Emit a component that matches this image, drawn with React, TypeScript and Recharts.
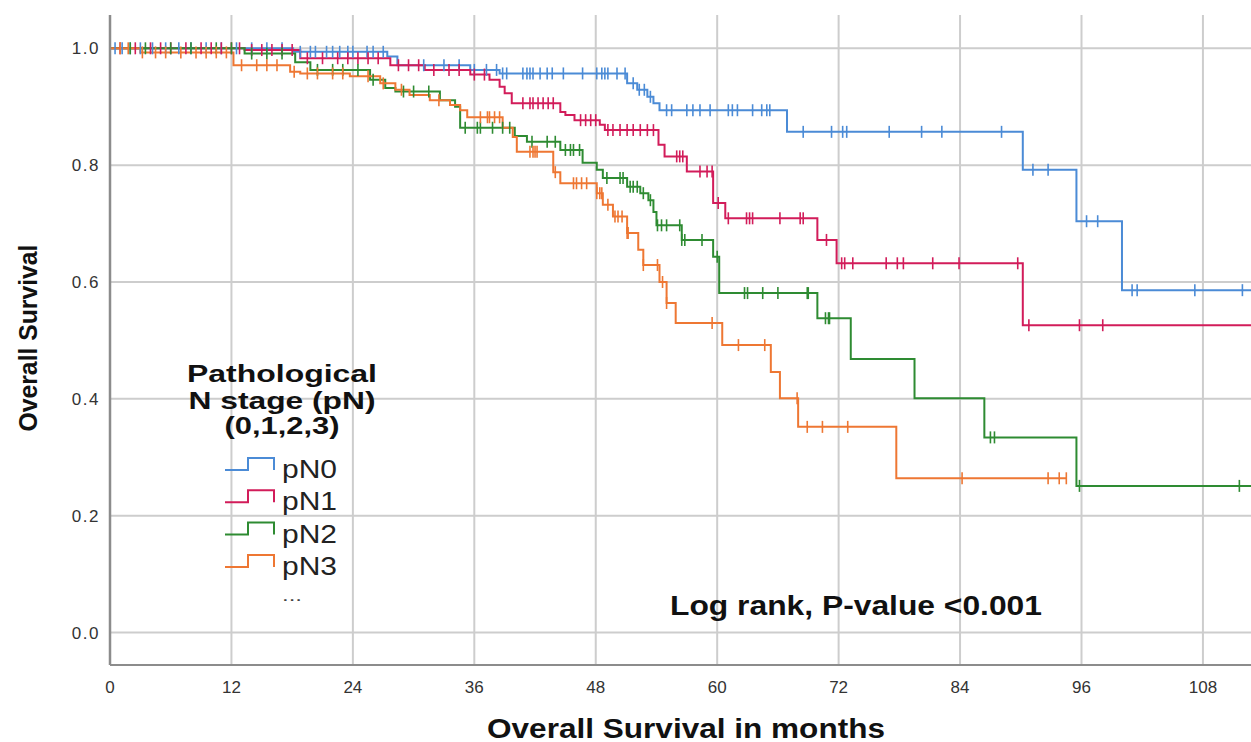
import {
  ComposedChart,
  Line,
  ReferenceLine,
  Scatter,
  XAxis,
  YAxis,
} from "recharts";

// Kaplan-Meier steps: [month, survival]
const PN0_STEPS: [number, number][] = [
  [0, 1], [18.1, 0.994], [27.4, 0.986], [28.4, 0.971], [35.6, 0.963], [38.5, 0.957],
  [51.1, 0.94], [52.1, 0.929], [53.1, 0.917], [53.7, 0.906], [54.3, 0.894],
  [66.9, 0.857], [90.2, 0.792], [95.5, 0.704], [100.0, 0.586], [112.75, 0.586],
];
const PN1_STEPS: [number, number][] = [
  [0, 1], [13.3, 0.997], [18.8, 0.983], [27.7, 0.971], [31.1, 0.963], [35.6, 0.955],
  [37.5, 0.946], [38.5, 0.934], [39.0, 0.923], [39.7, 0.906], [44.5, 0.891], [45.0, 0.886],
  [45.9, 0.877], [48.4, 0.869], [48.9, 0.86], [54.2, 0.835], [54.8, 0.815], [57.0, 0.789],
  [59.6, 0.735], [60.8, 0.709], [69.9, 0.672], [71.8, 0.632], [90.2, 0.526], [112.75, 0.526],
];
const PN2_STEPS: [number, number][] = [
  [0, 1], [13.3, 0.991], [18.3, 0.976], [19.8, 0.963], [25.7, 0.946], [27.2, 0.932],
  [28.2, 0.926], [32.6, 0.911], [34.1, 0.9], [34.6, 0.864], [40.0, 0.85], [41.2, 0.84],
  [44.5, 0.826], [46.7, 0.804], [48.1, 0.792], [48.7, 0.778], [51.1, 0.763], [52.4, 0.752],
  [53.2, 0.74], [53.7, 0.72], [54.0, 0.697], [56.5, 0.672], [59.6, 0.643], [60.2, 0.581],
  [69.9, 0.538], [73.2, 0.468], [79.5, 0.401], [86.4, 0.334], [95.5, 0.251], [112.75, 0.251],
];
const PN3_STEPS: [number, number][] = [
  [0, 1], [3.0, 0.993], [12.2, 0.971], [17.8, 0.96], [18.8, 0.957], [23.7, 0.952],
  [26.7, 0.94], [28.2, 0.929], [29.6, 0.92], [31.6, 0.911], [33.6, 0.903], [34.6, 0.894],
  [35.3, 0.882], [38.8, 0.864], [39.8, 0.848], [40.2, 0.823], [43.8, 0.788], [44.5, 0.769],
  [48.1, 0.752], [48.7, 0.732], [49.7, 0.712], [51.1, 0.684], [52.2, 0.655], [52.7, 0.629],
  [54.3, 0.6], [55.0, 0.564], [55.9, 0.53], [60.5, 0.492], [65.3, 0.446], [66.2, 0.401],
  [68.0, 0.352], [77.7, 0.264], [94.5, 0.264],
];

// censored times (months)
const PN0_CENSORED = [
  0.5, 1.2, 2.0, 3.0, 4.2, 5.5, 6.8, 8.0, 9.5, 11.0, 12.5, 14.0, 15.5, 17.0, 18.8, 19.8,
  20.3, 21.4, 22.0, 22.7, 23.5, 24.0, 25.4, 26.0, 27.0, 31.0, 33.0, 34.5, 36.0, 37.2, 38.2,
  38.8, 39.2, 40.8, 41.2, 41.5, 41.8, 42.5, 43.2, 43.7, 44.8, 46.7, 48.1, 48.6, 48.9, 49.2,
  50.1, 50.9, 51.7, 52.3, 52.8, 53.4, 55.0, 55.5, 57.0, 57.6, 58.3, 59.3, 61.1, 61.5, 62.0,
  63.5, 64.4, 64.9, 65.2, 68.5, 71.3, 72.4, 72.8, 77.0, 80.2, 82.2, 88.1, 91.2, 92.7, 96.5,
  97.6, 101.0, 101.5, 107.2, 111.9,
];
const PN1_CENSORED = [
  1.0, 2.5, 4.0, 5.0, 6.0, 7.5, 9.0, 10.0, 11.0, 12.0, 12.8, 14.0, 15.0, 16.0, 17.0, 18.0,
  19.5, 21.0, 22.5, 23.5, 24.5, 25.5, 26.5, 28.5, 29.5, 30.5, 32.0, 33.5, 34.5, 36.0, 37.0,
  40.8, 41.5, 41.8, 42.3, 42.8, 43.3, 43.8, 46.5, 47.0, 47.5, 48.0, 49.2, 49.7, 50.4, 51.1,
  51.7, 52.4, 53.1, 53.7, 56.0, 56.3, 56.6, 58.3, 59.0, 59.5, 60.1, 61.1, 62.9, 63.2, 63.5,
  66.2, 68.2, 68.5, 70.8, 72.3, 72.6, 73.4, 76.7, 77.8, 78.4, 81.3, 83.9, 89.7, 90.8, 95.8, 98.1,
];
const PN2_CENSORED = [
  2.0, 3.5, 6.0, 8.0, 10.5, 12.0, 14.0, 15.5, 17.0, 20.5, 22.0, 23.0, 24.5, 26.0, 29.0, 30.0,
  31.5, 35.1, 36.3, 36.6, 37.8, 38.8, 39.5, 41.7, 43.2, 44.0, 45.0, 45.5, 45.8, 46.4, 49.1,
  50.4, 50.7, 51.4, 51.7, 52.1, 52.7, 53.4, 54.1, 54.5, 55.0, 56.3, 56.5, 56.8, 58.5, 60.0,
  62.7, 63.0, 64.5, 66.0, 68.9, 69.0, 70.7, 71.0, 71.1, 87.0, 87.4, 95.8, 111.6,
];
const PN3_CENSORED = [
  1.0, 1.8, 3.2, 4.5, 5.5, 7.0, 8.5, 9.5, 10.5, 11.5, 13.0, 14.5, 15.5, 16.5, 18.2, 19.5,
  20.5, 22.0, 23.0, 25.5, 27.0, 28.8, 32.5, 36.6, 37.3, 37.5, 38.0, 38.5, 41.5, 41.8, 42.0,
  42.2, 44.0, 45.8, 46.1, 46.6, 47.1, 48.1, 48.4, 48.6, 49.2, 49.9, 50.2, 50.6, 51.1, 51.2,
  52.7, 54.1, 54.6, 55.0, 59.5, 62.1, 64.7, 67.9, 68.9, 70.4, 72.9, 84.2, 92.7, 93.8, 94.5,
];

const MONTH_TICKS = [0, 12, 24, 36, 48, 60, 72, 84, 96, 108];
const SURVIVAL_TICKS = [0, 0.2, 0.4, 0.6, 0.8, 1.0];
const GROUP_LABELS = ["pN0", "pN1", "pN2", "pN3"];
const GROUP_COLORS = ["#4b8bd6", "#d21c5a", "#2e8b32", "#ee7733"];

const X_DOMAIN: [number, number] = [0, 112.75];
const Y_DOMAIN: [number, number] = [-0.0556, 1.057];

const FONT = "'Liberation Sans', Arial, sans-serif";
const GRID = "#cdcdcd";

type Pt = { t: number; s: number };

const toPoints = (steps: [number, number][]): Pt[] => steps.map(([t, s]) => ({ t, s }));

// KM value at time t (value of the step in force)
function survivalAt(steps: [number, number][], t: number) {
  let s = steps[0][1];
  for (const [time, value] of steps) {
    if (time <= t) s = value;
    else break;
  }
  return s;
}

const censorPoints = (steps: [number, number][], times: number[]): Pt[] =>
  times.map((t) => ({ t, s: survivalAt(steps, t) }));

const groups = [
  { steps: PN0_STEPS, censored: PN0_CENSORED },
  { steps: PN1_STEPS, censored: PN1_CENSORED },
  { steps: PN2_STEPS, censored: PN2_CENSORED },
  { steps: PN3_STEPS, censored: PN3_CENSORED },
].map((g, i) => ({
  name: GROUP_LABELS[i],
  color: GROUP_COLORS[i],
  line: toPoints(g.steps),
  marks: censorPoints(g.steps, g.censored),
}));

function CensorMark(props: any) {
  const { cx, cy, fill } = props;
  if (cx == null || cy == null) return null;
  return <line x1={cx} x2={cx} y1={cy - 6} y2={cy + 6} stroke={fill} strokeWidth={1.6} />;
}

export default function App() {
  return (
    <div style={{ position: "absolute", left: 0, top: 0, width: 1251, height: 742, background: "#fff", overflow: "hidden" }}>
      <ComposedChart width={1251} height={742} margin={{ top: 15, right: 0, bottom: 47, left: 0 }}>
        <XAxis
          type="number"
          dataKey="t"
          domain={X_DOMAIN}
          allowDataOverflow
          ticks={MONTH_TICKS}
          interval={0}
          height={30}
          tickLine={false}
          tickMargin={10}
          stroke="#8c8c8c"
          strokeWidth={2}
          tick={{ fill: "#333", fontSize: 17, fontFamily: FONT }}
        />
        <YAxis
          type="number"
          dataKey="s"
          domain={Y_DOMAIN}
          allowDataOverflow
          ticks={SURVIVAL_TICKS}
          interval={0}
          width={110}
          tickLine={false}
          tickMargin={4}
          stroke="#8c8c8c"
          strokeWidth={2.5}
          tickFormatter={(v: number) => v.toFixed(1)}
          tick={{ fill: "#333", fontSize: 17, fontFamily: FONT, letterSpacing: 1.5 }}
        />
        {SURVIVAL_TICKS.map((v) => (
          <ReferenceLine key={"h" + v} y={v} stroke={GRID} strokeWidth={2} />
        ))}
        {MONTH_TICKS.filter((v) => v > 0).map((v) => (
          <ReferenceLine key={"v" + v} x={v} stroke={GRID} strokeWidth={2} />
        ))}
        {groups.map((g) => (
          <Line
            key={g.name}
            data={g.line}
            dataKey="s"
            type="stepAfter"
            stroke={g.color}
            strokeWidth={2}
            dot={false}
            activeDot={false}
            isAnimationActive={false}
          />
        ))}
        {groups.map((g) => (
          <Scatter
            key={g.name + "-c"}
            data={g.marks}
            dataKey="s"
            fill={g.color}
            shape={<CensorMark />}
            isAnimationActive={false}
          />
        ))}
      </ComposedChart>

      <svg
        width={1251}
        height={742}
        style={{ position: "absolute", left: 0, top: 0, pointerEvents: "none" }}
        fontFamily={FONT}
      >
        <text
          transform="translate(37,338) rotate(-90)"
          textAnchor="middle"
          fontWeight="bold"
          fontSize={25}
          fill="#111"
          textLength={187}
          lengthAdjust="spacingAndGlyphs"
        >
          Overall Survival
        </text>
        <text x={686} y={738} textAnchor="middle" fontWeight="bold" fontSize={27} fill="#111" textLength={398} lengthAdjust="spacingAndGlyphs">
          Overall Survival in months
        </text>
        <text x={670} y={615} fontWeight="bold" fontSize={27} fill="#111" textLength={372} lengthAdjust="spacingAndGlyphs">
          Log rank, P-value &lt;0.001
        </text>

        <g fontWeight="bold" fontSize={24} fill="#111" textAnchor="middle">
          <text x={282} y={382} textLength={190} lengthAdjust="spacingAndGlyphs">Pathological</text>
          <text x={282} y={409} textLength={187} lengthAdjust="spacingAndGlyphs">N stage (pN)</text>
          <text x={282} y={434} textLength={115} lengthAdjust="spacingAndGlyphs">(0,1,2,3)</text>
        </g>
        {groups.map((g, i) => {
          const low = 470 + i * 32.3;
          return (
            <g key={g.name}>
              <path d={`M225,${low} H248 V${low - 12} H274 V${low}`} fill="none" stroke={g.color} strokeWidth={2} />
              <text x={282} y={low + 8} fontSize={25} fill="#222" textLength={55} lengthAdjust="spacingAndGlyphs">
                {g.name}
              </text>
            </g>
          );
        })}
        <text x={282} y={601} fontSize={16} fill="#444" textLength={20} lengthAdjust="spacingAndGlyphs">
          ...
        </text>
      </svg>
    </div>
  );
}
